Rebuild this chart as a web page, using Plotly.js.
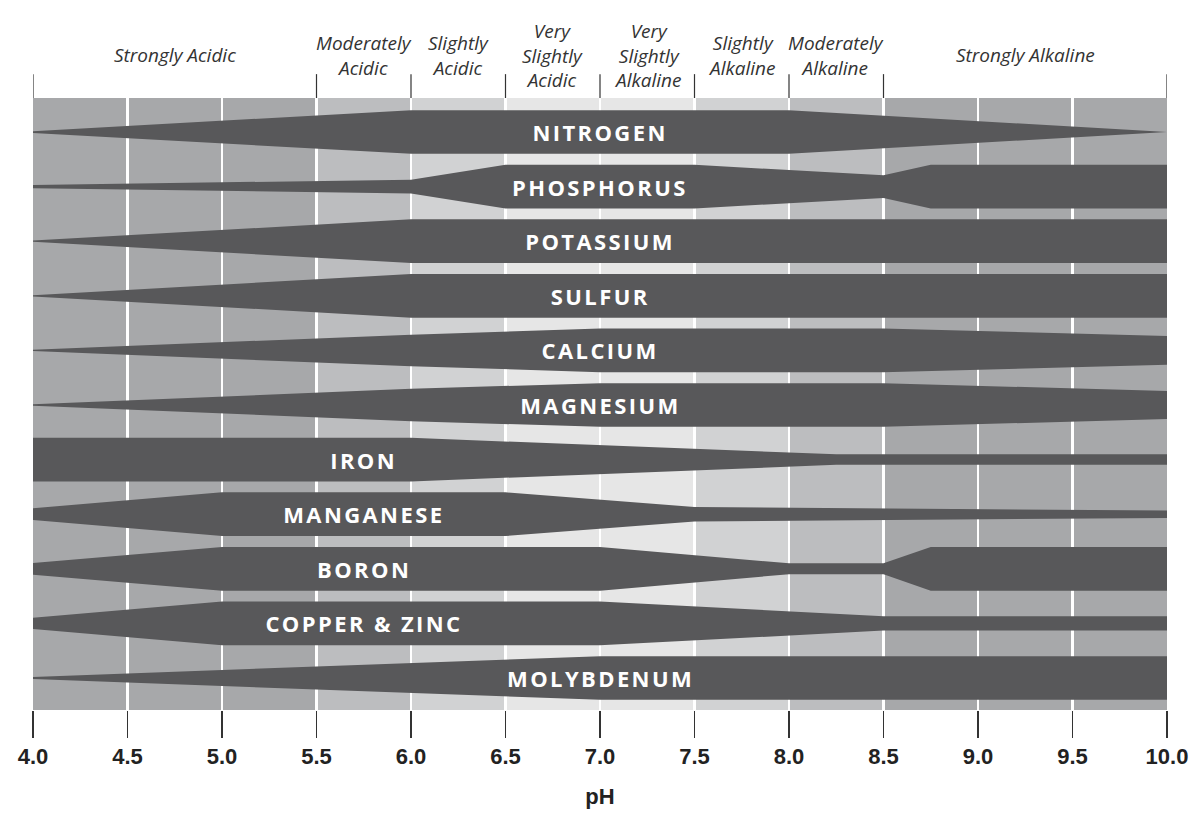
<!DOCTYPE html>
<html>
<head>
<meta charset="utf-8">
<script src="https://cdn.plot.ly/plotly-3.0.1.min.js"></script>
<style>
  body { margin: 0; background: #fff; }
  #chart { width: 1200px; height: 816px; }
</style>
</head>
<body>
<div id="chart"></div>
<script>
// nutrient availability vs soil pH
var nutrients = ['NITROGEN', 'PHOSPHORUS', 'POTASSIUM', 'SULFUR', 'CALCIUM', 'MAGNESIUM',
  'IRON', 'MANGANESE', 'BORON', 'COPPER & ZINC', 'MOLYBDENUM'];

// pH breakpoints and relative band width (1 = full) for each nutrient
var phPoints = [
  [4, 6, 8, 10],
  [4, 6, 6.5, 7.5, 8.5, 8.75, 10],
  [4, 6, 10],
  [4, 6, 10],
  [4, 6, 7, 8.5, 10],
  [4, 6, 7, 8.5, 10],
  [4, 6, 8.25, 10],
  [4, 5, 6.5, 7.5, 10],
  [4, 5, 7, 8, 8.5, 8.75, 10],
  [4, 5, 7, 8.5, 10],
  [4, 6, 7, 10]
];
var widths = [
  [0.04, 1, 1, 0],
  [0.07, 0.32, 1, 1, 0.52, 1, 1],
  [0.03, 1, 1],
  [0.03, 1, 1],
  [0.03, 0.72, 1, 1, 0.66],
  [0.03, 0.74, 1, 1, 0.64],
  [1, 1, 0.24, 0.24],
  [0.27, 1, 1, 0.33, 0.17],
  [0.27, 1, 1, 0.25, 0.25, 1, 1],
  [0.26, 1, 1, 0.33, 0.33],
  [0.05, 0.68, 1, 1]
];
var labelPh = [7, 7, 7, 7, 7, 7, 5.75, 5.75, 5.75, 5.75, 7];

// soil classes along the top
var zoneStart = [4, 5.5, 6, 6.5, 7, 7.5, 8, 8.5];
var zoneEnd = [5.5, 6, 6.5, 7, 7.5, 8, 8.5, 10];
var zoneNames = ['Strongly Acidic', 'Moderately<br>Acidic', 'Slightly<br>Acidic', 'Very<br>Slightly<br>Acidic',
  'Very<br>Slightly<br>Alkaline', 'Slightly<br>Alkaline', 'Moderately<br>Alkaline', 'Strongly Alkaline'];
var zoneColors = ['#a7a8aa', '#bcbdbf', '#d1d2d3', '#e6e6e6', '#e6e6e6', '#d1d2d3', '#bcbdbf', '#a7a8aa'];

var halfMax = 0.4;
var barColor = '#58585a';

var traces = [];
var annotations = [];
nutrients.forEach(function(name, i) {
  var xs = phPoints[i].slice();
  var ys = widths[i].map(function(w) { return i - w * halfMax; });
  for (var k = phPoints[i].length - 1; k >= 0; k--) {
    xs.push(phPoints[i][k]);
    ys.push(i + widths[i][k] * halfMax);
  }
  traces.push({
    x: xs, y: ys, type: 'scatter', mode: 'lines', fill: 'toself',
    fillcolor: barColor, line: { width: 0, color: barColor },
    hoverinfo: 'skip', showlegend: false
  });
  annotations.push({
    x: labelPh[i], y: i, xref: 'x', yref: 'y', text: name, showarrow: false,
    font: { family: 'Open Sans', size: 22, color: '#ffffff', weight: 700 },
    xanchor: 'center', yanchor: 'middle'
  });
});

var shapes = [];
zoneStart.forEach(function(s, i) {
  shapes.push({
    type: 'rect', xref: 'x', yref: 'paper', x0: s, x1: zoneEnd[i], y0: 0, y1: 1,
    fillcolor: zoneColors[i], line: { width: 0 }, layer: 'below'
  });
  shapes.push({
    type: 'line', xref: 'x', yref: 'paper', x0: s, x1: s, y0: 1, y1: 1.039,
    line: { color: '#333333', width: 1.2 }
  });
  annotations.push({
    x: (s + zoneEnd[i]) / 2, y: (710 - 55) / 612, xref: 'x', yref: 'paper',
    text: '<i>' + zoneNames[i] + '</i>',
    showarrow: false, xanchor: 'center', yanchor: 'middle',
    font: { family: 'Open Sans', size: 19, color: '#333333' }
  });
});
shapes.push({
  type: 'line', xref: 'x', yref: 'paper', x0: 10, x1: 10, y0: 1, y1: 1.039,
  line: { color: '#333333', width: 1.2 }
});

var axisFont = { family: 'Liberation Sans Narrow, Arial Narrow, sans-serif', size: 22, color: '#222222', weight: 700 };

var layout = {
  width: 1200, height: 816,
  margin: { l: 33, r: 33, t: 98, b: 106 },
  paper_bgcolor: '#ffffff', plot_bgcolor: '#ffffff',
  xaxis: {
    range: [4, 10], dtick: 0.5, tick0: 4, tickformat: '.1f',
    showgrid: true, gridcolor: '#ffffff', gridwidth: 2.5,
    zeroline: false, showline: false,
    ticks: 'outside', ticklen: 27, tickwidth: 1.2, tickcolor: '#333333',
    tickfont: axisFont,
    title: { text: 'pH', standoff: 20, font: axisFont },
    fixedrange: true
  },
  yaxis: {
    range: [10.586, -0.623], showgrid: false, zeroline: false, showticklabels: false,
    ticks: '', showline: false, fixedrange: true
  },
  shapes: shapes,
  annotations: annotations,
  showlegend: false
};

Plotly.newPlot('chart', traces, layout, { displayModeBar: false, staticPlot: true }).then(function() {
  // wide tracking on the white nutrient names only
  document.querySelectorAll('.annotation-text').forEach(function(t) {
    if (t.style.fill === 'rgb(255, 255, 255)') t.style.letterSpacing = '2.4px';
  });
});
</script>
</body>
</html>
